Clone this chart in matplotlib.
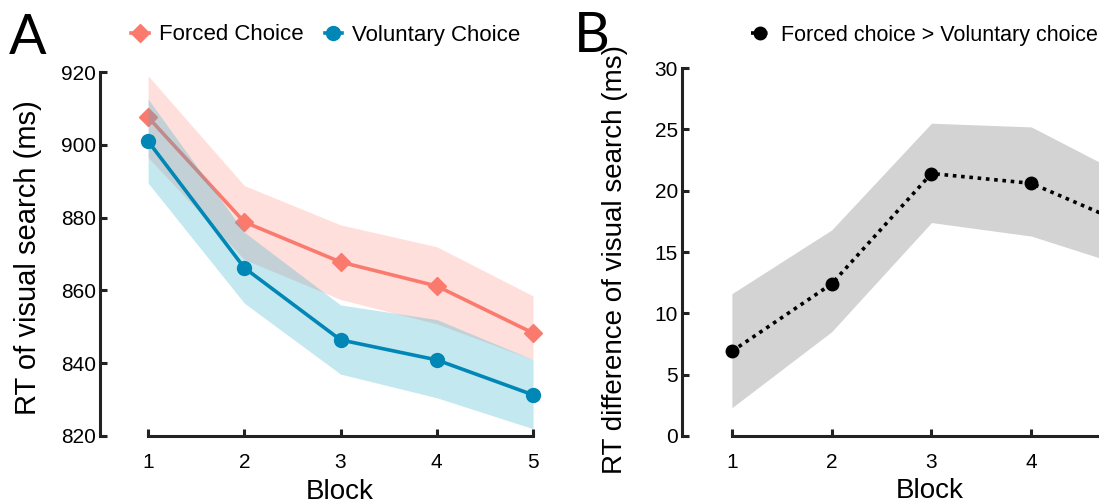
import matplotlib
matplotlib.use("Agg")
import matplotlib.pyplot as plt
from matplotlib.lines import Line2D

plt.rcParams['font.family'] = ['Liberation Sans', 'DejaVu Sans']

blocks = [1, 2, 3, 4, 5]
forced_mean = [907.6, 878.8, 867.8, 861.2, 848.3]
forced_upper = [919.0, 888.8, 878.0, 872.0, 858.5]
forced_lower = [896.5, 868.5, 857.5, 850.8, 841.0]
vol_mean = [901.0, 866.2, 846.4, 840.9, 831.3]
vol_upper = [912.6, 876.0, 856.0, 852.0, 841.0]
vol_lower = [889.5, 856.5, 837.0, 830.5, 822.0]

diff_mean = [6.9, 12.4, 21.4, 20.6, 17.1]
diff_upper = [11.6, 16.8, 25.5, 25.2, 21.0]
diff_lower = [2.3, 8.5, 17.4, 16.3, 13.7]

a_yticks = [820, 840, 860, 880, 900, 920]
b_yticks = [0, 5, 10, 15, 20, 25, 30]

red = '#FA7A6E'
blue = '#0087B5'
spine_c = '#222222'

fig = plt.figure(figsize=(10.99, 5.04), dpi=100)
axA = fig.add_axes([100/1099, 0.135, 442.6/1099, 0.722])
axB = fig.add_axes([682/1099, 0.135, 459/1099, 0.730])

def style(ax, yticks):
    for s in ['top', 'right']:
        ax.spines[s].set_visible(False)
    for s in ['left', 'bottom']:
        ax.spines[s].set_linewidth(2.2)
        ax.spines[s].set_color(spine_c)
    ax.spines['bottom'].set_bounds(1, 5)
    ax.spines['left'].set_bounds(yticks[0], yticks[-1])
    ax.set_xlim(0.5, 5.1)
    ax.set_ylim(yticks[0], yticks[-1])
    ax.set_xticks(blocks)
    ax.set_yticks(yticks)
    ax.tick_params(axis='both', direction='in', length=5, width=2.2,
                   color=spine_c, labelsize=15)
    ax.tick_params(axis='x', pad=12)
    ax.tick_params(axis='y', pad=3)

# Panel A
axA.fill_between(blocks, forced_lower, forced_upper, color='#FF8C80', alpha=0.28, lw=0)
axA.plot(blocks, forced_mean, color=red, lw=2.6, marker='D', ms=9, clip_on=False, zorder=3)
axA.fill_between(blocks, vol_lower, vol_upper, color='#3AB3CC', alpha=0.30, lw=0, zorder=3.5)
axA.plot(blocks, vol_mean, color=blue, lw=2.6, marker='o', ms=10, clip_on=False, zorder=4)
style(axA, a_yticks)
axA.set_ylabel('RT of visual search (ms)', fontsize=21)
axA.yaxis.set_label_coords(-0.130, 0.49)
axA.set_xlabel('Block', fontsize=20)
axA.xaxis.set_label_coords(0.542, -0.117)

# Panel B
axB.fill_between(blocks, diff_lower, diff_upper, color='#D3D3D3', lw=0)
axB.plot(blocks, diff_mean, color='black', lw=2.6, ls=(0, (1.0, 1.3)),
         marker='o', ms=9, clip_on=False, zorder=3)
style(axB, b_yticks)
axB.set_ylabel('RT difference of visual search (ms)', fontsize=20)
axB.yaxis.set_label_coords(-0.118, 0.48)
axB.set_xlabel('Block', fontsize=20)
axB.xaxis.set_label_coords(0.54, -0.115)

# Legends
hA = [Line2D([], [], color=red, lw=2.6, marker='D', ms=9),
      Line2D([], [], color=blue, lw=2.6, marker='o', ms=10)]
fig.legend(hA, ['Forced Choice', 'Voluntary Choice'], loc='center left',
           bbox_to_anchor=(131/1099, 1 - 35/504), ncol=2, frameon=False,
           fontsize=16, handlelength=0.8, handletextpad=0.45, columnspacing=0.95,
           borderaxespad=0, borderpad=0)
hB = [Line2D([], [], color='black', lw=2.6, ls=(0, (1.0, 1.3)), marker='o', ms=9)]
fig.legend(hB, ['Forced choice > Voluntary choice'], loc='center left',
           bbox_to_anchor=(751/1099, 1 - 35/504), frameon=False,
           fontsize=15.5, handlelength=0.8, handletextpad=0.6,
           borderaxespad=0, borderpad=0)

fig.text(9/1099, 1 - 38/504, 'A', fontsize=40, family=['Lato', 'DejaVu Sans'], va='center', ha='left')
fig.text(574/1099, 1 - 36/504, 'B', fontsize=40, family=['Lato', 'DejaVu Sans'], va='center', ha='left')

fig.savefig('out.png', dpi=100)
